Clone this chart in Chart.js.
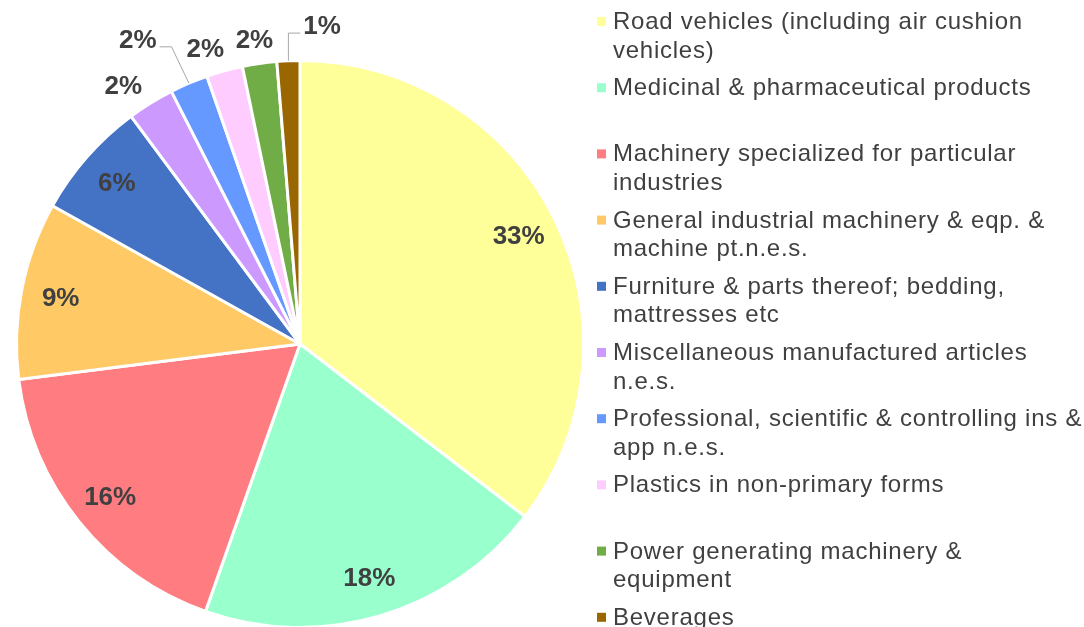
<!DOCTYPE html>
<html><head><meta charset="utf-8">
<script src="https://cdn.jsdelivr.net/npm/chart.js@4"></script>
<style>html,body{margin:0;padding:0;background:#fff;overflow:hidden}#wrap{width:1084px;height:627px;position:relative}</style>
</head><body><div id="wrap"><canvas id="c" width="1084" height="627"></canvas></div>
<script>
const categories = [
  ['Road vehicles (including air cushion', 'vehicles)'],
  ['Medicinal & pharmaceutical products'],
  ['Machinery specialized for particular', 'industries'],
  ['General industrial machinery & eqp. &', 'machine pt.n.e.s.'],
  ['Furniture & parts thereof; bedding,', 'mattresses etc'],
  ['Miscellaneous manufactured articles', 'n.e.s.'],
  ['Professional, scientific & controlling ins &', 'app n.e.s.'],
  ['Plastics in non-primary forms'],
  ['Power generating machinery &', 'equipment'],
  ['Beverages']
];
const shares = [32.6, 18.4, 16.2, 9.3, 6.2, 2.45, 2.0, 1.9, 1.8, 1.2];
const colors = ['#FFFF99', '#99FFCC', '#FF7C80', '#FFC966', '#4472C4', '#CC99FF', '#6699FF', '#FFCCFF', '#70AD47', '#996600'];
// outside label placement (angle shift in degrees, radius factor), null = inside
const outsideLabels = [null, null, null, null, null,
  {dA: -2.6, rf: 1.104}, {dA: -5, rf: 1.216, leader: true}, {dA: -2.3, rf: 1.095},
  {dA: -0.3, rf: 1.086}, {dA: 6.3, rf: 1.124, leader: true}];

const FONT = '"Liberation Sans", Arial, sans-serif';
const TEXT = '#404040';

const labelPlugin = {
  id: 'labels',
  afterDatasetsDraw(chart) {
    const ctx = chart.ctx;
    const meta = chart.getDatasetMeta(0);
    ctx.save();
    ctx.font = 'bold 26px ' + FONT;
    ctx.fillStyle = TEXT;
    ctx.textAlign = 'center';
    ctx.textBaseline = 'middle';
    meta.data.forEach((arc, i) => {
      const p = arc.getProps(['x', 'y', 'startAngle', 'endAngle', 'outerRadius'], true);
      const mid = (p.startAngle + p.endAngle) / 2;
      const txt = Math.round(shares[i]) + '%';
      const o = outsideLabels[i];
      let lx, ly;
      if (!o) {
        lx = p.x + Math.cos(mid) * p.outerRadius * 0.86;
        ly = p.y + Math.sin(mid) * p.outerRadius * 0.86;
      } else {
        const a = mid + o.dA * Math.PI / 180;
        lx = p.x + Math.cos(a) * p.outerRadius * o.rf;
        ly = p.y + Math.sin(a) * p.outerRadius * o.rf;
        if (o.leader) {
          const rx = p.x + Math.cos(mid) * p.outerRadius;
          const ry = p.y + Math.sin(mid) * p.outerRadius;
          const w = ctx.measureText(txt).width;
          const dir = rx > lx ? 1 : -1;
          const sx = lx + dir * (w / 2 + 3);
          const sy = ly + 7;
          const hx = sx + dir * Math.min(Math.abs(rx - sx), 12);
          ctx.save();
          ctx.strokeStyle = '#A6A6A6';
          ctx.lineWidth = 1;
          ctx.beginPath();
          ctx.moveTo(sx, sy);
          ctx.lineTo(hx, sy);
          ctx.lineTo(rx, ry);
          ctx.stroke();
          ctx.restore();
        }
      }
      ctx.fillText(txt, lx, ly + 1);
    });
    ctx.restore();
  },
  afterDraw(chart) {
    const ctx = chart.ctx;
    ctx.save();
    ctx.font = '24px ' + FONT;
    ctx.textAlign = 'left';
    ctx.textBaseline = 'alphabetic';
    const hasLS = ('letterSpacing' in ctx);
    if (hasLS) ctx.letterSpacing = '0.75px';
    categories.forEach((lines, i) => {
      const base = 29 + i * 66.2;
      ctx.fillStyle = colors[i];
      ctx.fillRect(597, base - 12, 9, 9);
      ctx.fillStyle = TEXT;
      lines.forEach((ln, j) => {
        const yy = base + j * 28.5;
        if (hasLS) {
          ctx.fillText(ln, 613, yy);
        } else {
          ctx.save();
          ctx.translate(613, yy);
          ctx.scale(1.066, 1);
          ctx.fillText(ln, 0, 0);
          ctx.restore();
        }
      });
    });
    ctx.restore();
  }
};

new Chart(document.getElementById('c'), {
  type: 'pie',
  data: {
    labels: categories,
    datasets: [{
      data: shares,
      backgroundColor: colors,
      borderColor: '#FFFFFF',
      borderWidth: 3
    }]
  },
  options: {
    responsive: false,
    animation: false,
    radius: 283.5,
    layout: {padding: {left: 0, right: 484, top: 61, bottom: 0}},
    plugins: {legend: {display: false}, tooltip: {enabled: false}}
  },
  plugins: [labelPlugin]
});
</script></body></html>
